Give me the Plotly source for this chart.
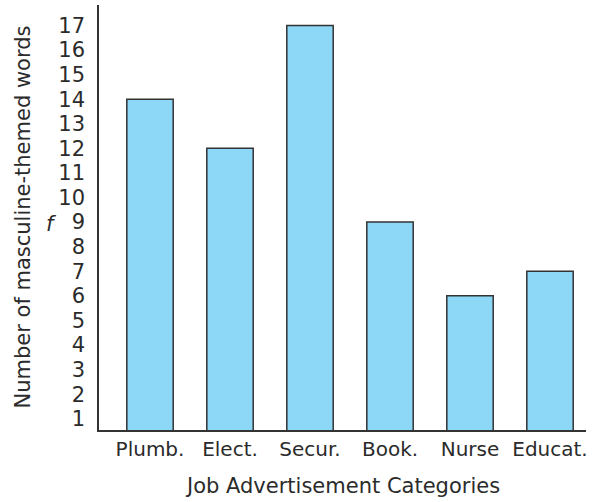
import plotly.graph_objects as go

categories = ["Plumb.", "Elect.", "Secur.", "Book.", "Nurse", "Educat."]
values = [14, 12, 17, 9, 6, 7]
y_ticks = list(range(1, 18))

FONT = "DejaVu Sans"
TXT = "#2b2b2b"

fig = go.Figure(go.Bar(
    x=categories, y=values, width=0.58,
    marker=dict(color="#8dd7f7", line=dict(color="#333333", width=1.5)),
))

fig.update_layout(
    width=600, height=502,
    margin=dict(l=99, r=14, t=5, b=72),
    paper_bgcolor="white", plot_bgcolor="white",
    showlegend=False,
    font=dict(family=FONT, color=TXT, size=21),
    xaxis=dict(range=[-0.6375, 5.45], showline=True, linecolor="#333333", linewidth=1.5,
               ticks="", showgrid=False, tickfont=dict(size=20), zeroline=False),
    yaxis=dict(range=[0.545, 17.83], showline=True, linecolor="#333333", linewidth=1.5,
               ticks="", showgrid=False, zeroline=False, tickvals=y_ticks,
               tickfont=dict(size=21), ticklabelstandoff=8),
    annotations=[
        dict(text="Number of masculine-themed words", xref="paper", yref="paper",
             x=0, y=0.5, xshift=-77, textangle=-90, showarrow=False,
             xanchor="center", yanchor="middle", font=dict(size=21)),
        dict(text="<i>f</i>", xref="paper", yref="paper", x=0, y=0.5, xshift=-48,
             yshift=-6, showarrow=False, xanchor="center", yanchor="middle",
             font=dict(size=21)),
        dict(text="Job Advertisement Categories", xref="paper", yref="paper",
             x=0.5, y=0, yshift=-56, showarrow=False, xanchor="center",
             yanchor="middle", font=dict(size=21)),
    ],
)

fig.write_html("out.html", config={"displayModeBar": False})
with open("out.html", encoding="utf-8") as fh:
    html = fh.read()
html = html.replace("<head>", "<head><style>html,body{margin:0;padding:0;overflow:hidden;}</style>", 1)
with open("out.html", "w", encoding="utf-8") as fh:
    fh.write(html)
